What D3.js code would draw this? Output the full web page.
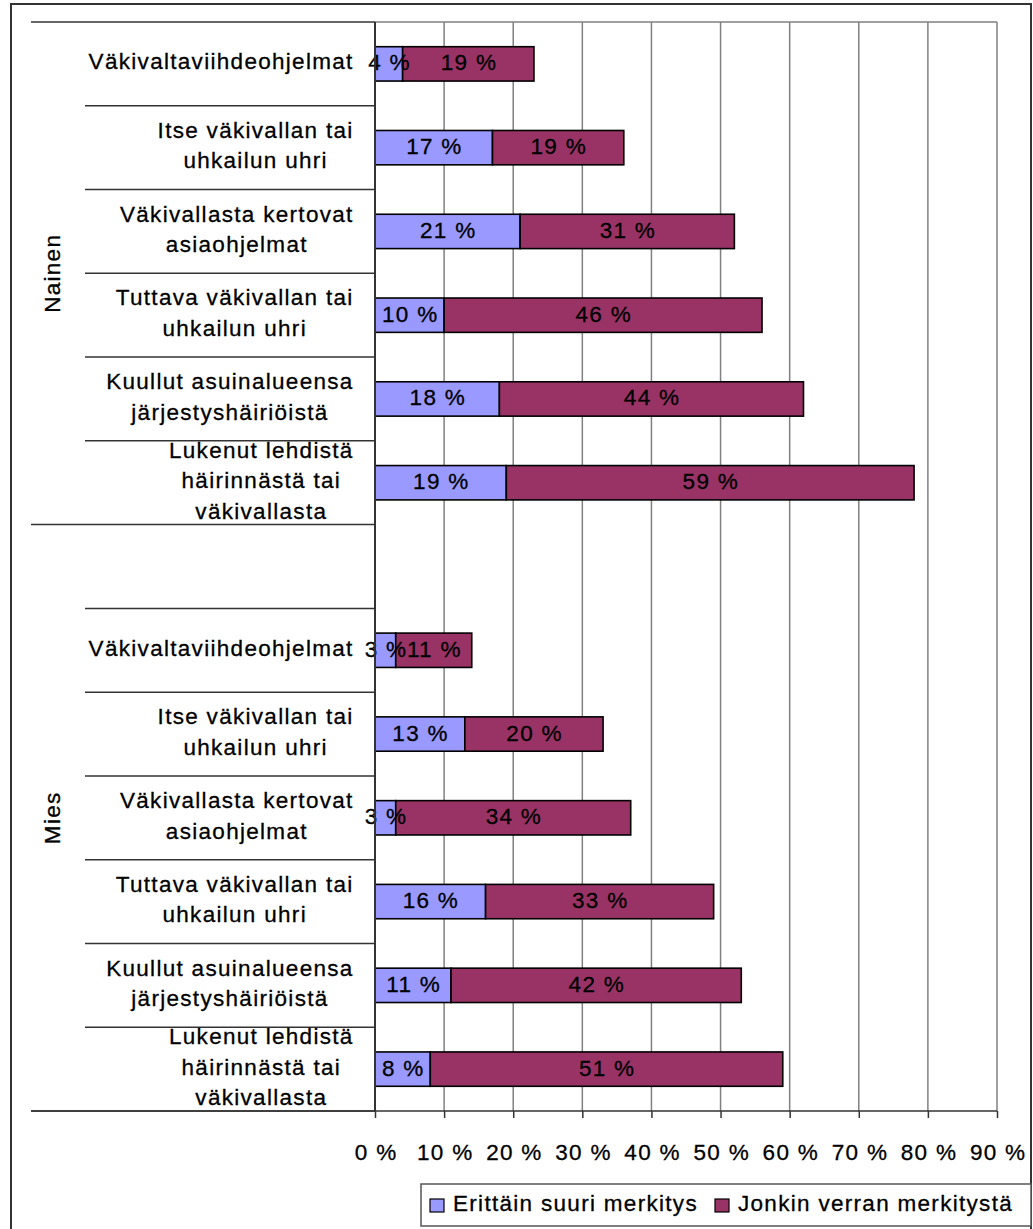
<!DOCTYPE html>
<html>
<head>
<meta charset="utf-8">
<script src="https://cdn.jsdelivr.net/npm/d3@7"></script>
<style>
  body { margin: 0; background: #fff; }
  text { font-family: "Liberation Sans", Arial, sans-serif; fill: #000; stroke: #000; stroke-width: 0.3px; }
</style>
</head>
<body>
<svg id="chart" width="1033" height="1229"></svg>
<script>
// Category labels (line breaks mark wrapped label lines)
const categories = [
  "Väkivaltaviihdeohjelmat",
  "Itse väkivallan tai\nuhkailun uhri",
  "Väkivallasta kertovat\nasiaohjelmat",
  "Tuttava väkivallan tai\nuhkailun uhri",
  "Kuullut asuinalueensa\njärjestyshäiriöistä",
  "Lukenut lehdistä\nhäirinnästä tai\nväkivallasta"
];
const groups = ["Nainen", "Mies"];
const seriesNames = ["Erittäin suuri merkitys", "Jonkin verran merkitystä"];

// Shares (%) per category, top to bottom
const naisetErittain = [4, 17, 21, 10, 18, 19];
const naisetJonkin   = [19, 19, 31, 46, 44, 59];
const miehetErittain = [3, 13, 3, 16, 11, 8];
const miehetJonkin   = [11, 20, 34, 33, 42, 51];

const tickValues = [0, 10, 20, 30, 40, 50, 60, 70, 80, 90];

const colors = ["#9999FF", "#993366"];
const FONT = 22.5, LS = 1.3;

// Rows: women's block, a blank spacer row, men's block
const rows = [];
categories.forEach((c, i) => rows.push({ key: "N" + i, label: c, group: 0, values: [naisetErittain[i], naisetJonkin[i]] }));
rows.push({ key: "blank", label: "", group: 1, values: null });
categories.forEach((c, i) => rows.push({ key: "M" + i, label: c, group: 1, values: [miehetErittain[i], miehetJonkin[i]] }));

const svg = d3.select("#chart");

const x = d3.scaleLinear().domain([0, 90]).range([375, 997]);
const y = d3.scaleBand().domain(rows.map(r => r.key)).range([22, 1111]).padding(0);
const bw = y.bandwidth();
const barH = bw * 0.41;

const styleText = sel => sel.style("font-size", FONT + "px").style("letter-spacing", LS + "px");

// Outer chart frame
svg.append("rect").attr("x", 11).attr("y", 4).attr("width", 1020).attr("height", 1240)
  .attr("fill", "none").attr("stroke", "#333").attr("stroke-width", 2);

// Vertical gridlines and plot frame
svg.append("g").selectAll("line").data(tickValues.slice(1)).join("line")
  .attr("x1", d => x(d)).attr("x2", d => x(d))
  .attr("y1", 22).attr("y2", 1111)
  .attr("stroke", "#808080").attr("stroke-width", 1.5);
svg.append("line").attr("x1", 375).attr("x2", 997).attr("y1", 22).attr("y2", 22)
  .attr("stroke", "#808080").attr("stroke-width", 1.5);

// Stacked bars
const barG = svg.append("g");
rows.filter(r => r.values).forEach(r => {
  let acc = 0;
  r.values.forEach((v, si) => {
    const x0 = acc, x1 = acc + v;
    acc = x1;
    barG.append("rect")
      .attr("x", x(x0)).attr("width", x(x1) - x(x0))
      .attr("y", y(r.key) + (bw - barH) / 2).attr("height", barH)
      .attr("fill", colors[si]).attr("stroke", "#000").attr("stroke-width", 1.6);
  });
});

// Value labels
rows.filter(r => r.values).forEach(r => {
  let acc = 0;
  r.values.forEach(v => {
    const mid = acc + v / 2;
    acc += v;
    barG.append("text")
      .attr("x", x(mid) + LS / 2).attr("y", y(r.key) + bw / 2 + 6.5)
      .attr("text-anchor", "middle").call(styleText)
      .text(v + " %");
  });
});

// Category axis: separators between categories and groups
const edges = d3.range(rows.length + 1).map(i => 22 + i * bw);
const groupEdges = [0, 6, rows.length];
svg.append("g").selectAll("line").data(edges).join("line")
  .attr("x1", (d, i) => groupEdges.includes(i) ? 31 : 85).attr("x2", 375)
  .attr("y1", d => d).attr("y2", d => d)
  .attr("stroke", "#333").attr("stroke-width", 1.5);

// Category labels, lines centred within a right-aligned block
const labG = svg.append("g");
rows.filter(r => r.label).forEach(r => {
  const lines = r.label.split("\n");
  const g = labG.append("g");
  const cy = y(r.key) + bw / 2;
  const ts = lines.map((l, i) => g.append("text")
    .attr("y", cy + (i - (lines.length - 1) / 2) * 30.5 + 5.5)
    .attr("text-anchor", "middle").call(styleText)
    .text(l));
  const w = d3.max(ts, t => t.node().getComputedTextLength());
  ts.forEach(t => t.attr("x", 353 - w / 2 + LS / 2));
});

// Group labels
const groupSpans = [[0, 6], [6, rows.length]];
groups.forEach((gname, gi) => {
  const cy = (edges[groupSpans[gi][0]] + edges[groupSpans[gi][1]]) / 2;
  svg.append("text")
    .attr("transform", `translate(60,${cy}) rotate(-90)`)
    .attr("text-anchor", "middle").call(styleText)
    .text(gname);
});

// Vertical category axis line
svg.append("line").attr("x1", 375).attr("x2", 375).attr("y1", 22).attr("y2", 1111)
  .attr("stroke", "#333").attr("stroke-width", 2);

// Value axis
const xAxis = d3.axisBottom(x).tickValues(tickValues).tickFormat(d => d + " %").tickSize(7).tickSizeOuter(0).tickPadding(26);
const ax = svg.append("g").attr("transform", "translate(0,1111)").call(xAxis);
ax.attr("font-family", null).attr("font-size", null);
ax.select(".domain").remove();
ax.selectAll(".tick line").attr("stroke", "#333").attr("stroke-width", 1.5);
ax.selectAll(".tick text").call(styleText).attr("dx", LS / 2 + "px");
svg.append("line").attr("x1", 31).attr("x2", 997).attr("y1", 1111).attr("y2", 1111)
  .attr("stroke", "#333").attr("stroke-width", 1.5);

// Legend
const leg = svg.append("g");
leg.append("rect").attr("x", 421).attr("y", 1184).attr("width", 610).attr("height", 42)
  .attr("fill", "#fff").attr("stroke", "#555").attr("stroke-width", 1.5);
const legX = [430, 715];
seriesNames.forEach((s, i) => {
  leg.append("rect").attr("x", legX[i]).attr("y", 1199).attr("width", 14).attr("height", 13)
    .attr("fill", colors[i]).attr("stroke", "#000").attr("stroke-width", 1.2);
  leg.append("text").attr("x", legX[i] + 23).attr("y", 1211)
    .call(styleText).text(s);
});
</script>
</body>
</html>
